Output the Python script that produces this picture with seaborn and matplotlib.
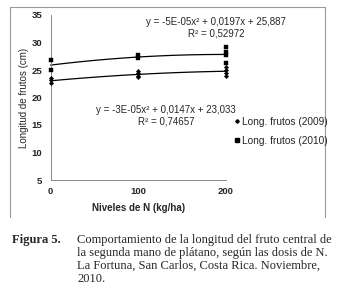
import numpy as np
import pandas as pd
import matplotlib
matplotlib.use('Agg')
import matplotlib.pyplot as plt
from matplotlib.lines import Line2D
import seaborn as sns

# (N level, length in cm)
n_2009 = [0, 0, 0, 100, 100, 100, 100, 200, 200, 200, 200]
len_2009 = [23.5, 23.2, 22.7, 24.8, 24.4, 24.0, 23.7, 25.6, 25.0, 24.5, 24.0]
n_2010 = [0, 0, 100, 100, 200, 200, 200, 200]
len_2010 = [26.8, 25.0, 27.7, 27.2, 29.2, 28.3, 27.7, 26.2]

# trend line coefficients as printed on the chart
coef_2009 = [-3e-05, 0.0147, 23.033]
coef_2010 = [-5e-05, 0.0197, 25.887]
eq_2009 = 'y = -3E-05x² + 0,0147x + 23,033\nR² = 0,74657'
eq_2010 = 'y = -5E-05x² + 0,0197x + 25,887\nR² = 0,52972'
labels = ['Long. frutos (2009)', 'Long. frutos (2010)']

caption = ['Comportamiento de la longitud del fruto central de',
           'la segunda mano de plátano, según las dosis de N.',
           'La Fortuna, San Carlos, Costa Rica. Noviembre,',
           '2010.']

sns.set_style('white')
plt.rcParams['font.family'] = ['Liberation Sans', 'DejaVu Sans']

W, H = 339, 286
fig = plt.figure(figsize=(W / 100, H / 100), dpi=100)
ax = fig.add_axes([50.5 / W, 1 - 180 / H, (226 - 50.5) / W, (180 - 15) / H])

d09 = pd.DataFrame({'N': n_2009, 'L': len_2009})
d10 = pd.DataFrame({'N': n_2010, 'L': len_2010})
sns.scatterplot(data=d09, x='N', y='L', ax=ax, marker='D', s=5, color='black',
                edgecolor='black', linewidth=0.3, clip_on=False, zorder=3)
sns.scatterplot(data=d10, x='N', y='L', ax=ax, marker='s', s=9, color='black',
                edgecolor='black', linewidth=0.3, clip_on=False, zorder=3)

xs = np.linspace(0, 200, 100)
ax.plot(xs, np.polyval(coef_2009, xs), color='black', lw=0.9, clip_on=False)
ax.plot(xs, np.polyval(coef_2010, xs), color='black', lw=0.9, clip_on=False)

ax.set_xlim(0, 200)
ax.set_ylim(5, 35)
ax.set_xticks([0, 100, 200])
ax.set_yticks(range(5, 40, 5))
ax.tick_params(axis='both', which='major', direction='out', length=3, width=0.6,
               color='#888888', labelsize=6.8, pad=3)
ax.tick_params(axis='x', direction='inout', length=4)
for lab in ax.get_xticklabels() + ax.get_yticklabels():
    lab.set_fontweight('bold')
for side in ['top', 'right']:
    ax.spines[side].set_visible(False)
for side in ['left', 'bottom']:
    ax.spines[side].set_color('#888888')
    ax.spines[side].set_linewidth(0.7)
ax.patch.set_alpha(0)

ax.set_xlabel('Niveles de N (kg/ha)', fontsize=7, fontweight='bold', labelpad=5)
ax.set_ylabel('Longitud de frutos (cm)', fontsize=7, labelpad=2)

fig.text(216 / W, 1 - 28 / H, eq_2010, ha='center', va='center', fontsize=7,
         linespacing=1.2, multialignment='center')
fig.text(166 / W, 1 - 115.5 / H, eq_2009, ha='center', va='center', fontsize=7,
         linespacing=1.2, multialignment='center')

handles = [Line2D([], [], ls='none', marker='D', ms=1.8, color='black'),
           Line2D([], [], ls='none', marker='s', ms=2.2, color='black')]
fig.legend(handles, labels, loc='upper left', bbox_to_anchor=(234 / W, 1 - 117 / H),
           frameon=False, fontsize=7.3, handlelength=0.6, handletextpad=0.15,
           labelspacing=0.85, borderpad=0, borderaxespad=0)

# chart border (left, top, right)
box = dict(color='#999999', lw=0.8, transform=fig.transFigure)
fig.add_artist(Line2D([9.5 / W, 9.5 / W], [1 - 217 / H, 1 - 7 / H], **box))
fig.add_artist(Line2D([9.5 / W, 324.5 / W], [1 - 7 / H, 1 - 7 / H], **box))
fig.add_artist(Line2D([324.5 / W, 324.5 / W], [1 - 217 / H, 1 - 7 / H], **box))

serif = ['Liberation Serif', 'DejaVu Serif']
fig.text(12.5 / W, 1 - 243.5 / H, 'Figura 5.', family=serif, fontsize=9,
         fontweight='bold', va='baseline', ha='left')
for i, line in enumerate(caption):
    fig.text(77 / W, 1 - (243.5 + 12.8 * i) / H, line, family=serif, fontsize=9,
             va='baseline', ha='left')

fig.savefig('out.png', dpi=100)
